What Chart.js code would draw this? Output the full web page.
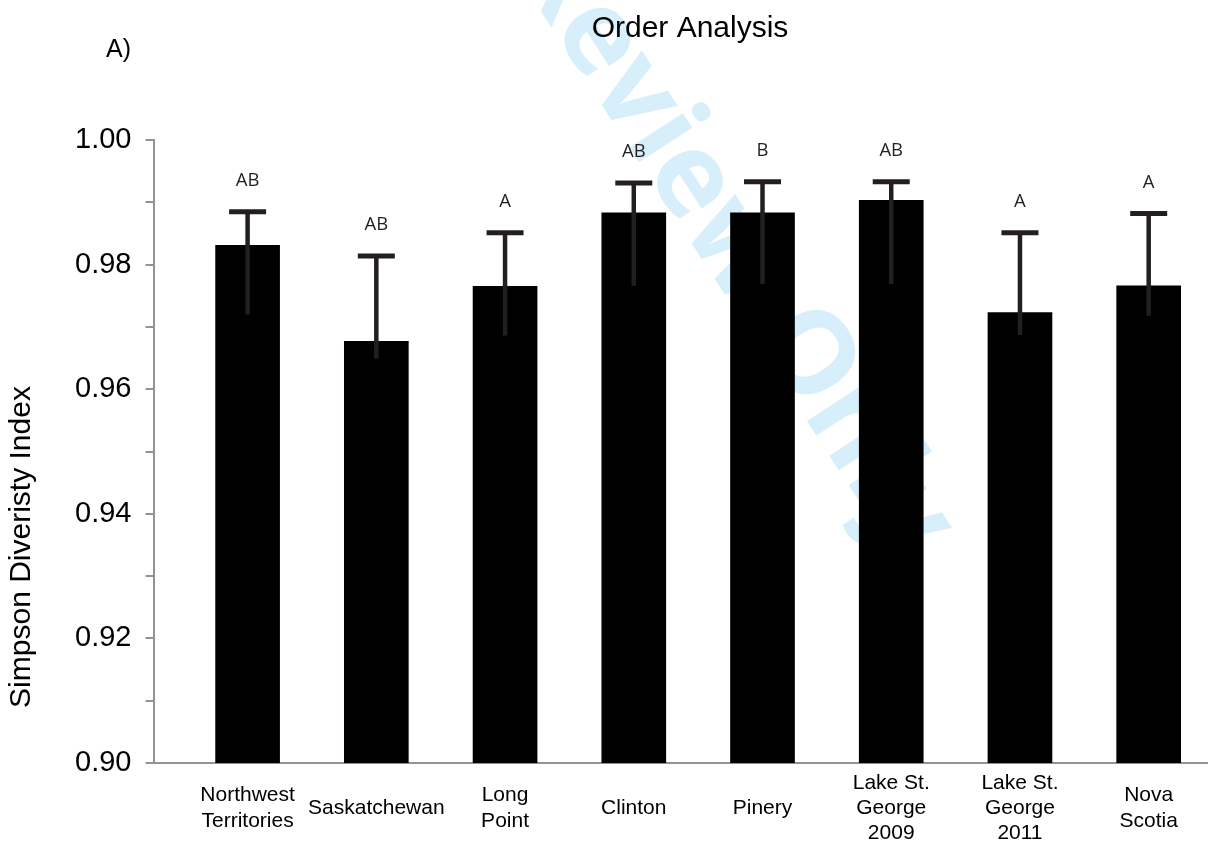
<!DOCTYPE html>
<html>
<head>
<meta charset="utf-8">
<title>Order Analysis</title>
<script src="https://cdn.jsdelivr.net/npm/chart.js@4.4.1/dist/chart.umd.min.js"></script>
<style>
  html, body { margin: 0; padding: 0; background: #ffffff; }
  canvas { display: block; }
</style>
</head>
<body>
<canvas id="chart" width="1209" height="850"></canvas>
<script>
// Sampling sites (one bar each)
const sites = [
  'Northwest Territories', 'Saskatchewan', 'Long Point', 'Clinton',
  'Pinery', 'Lake St. George 2009', 'Lake St. George 2011', 'Nova Scotia'
];
// Category tick labels, broken over lines
const siteLabels = [
  ['Northwest', 'Territories'], ['Saskatchewan'], ['Long', 'Point'], ['Clinton'],
  ['Pinery'], ['Lake St.', 'George', '2009'], ['Lake St.', 'George', '2011'], ['Nova', 'Scotia']
];
// Mean Simpson diversity index per site
const simpsonMean = [0.9831, 0.9677, 0.9765, 0.9883, 0.9883, 0.9903, 0.9723, 0.9766];
// Upper and lower ends of the error whiskers
const errorHigh = [0.9885, 0.9814, 0.9851, 0.9931, 0.9933, 0.9933, 0.9851, 0.9882];
const errorLow  = [0.9720, 0.9649, 0.9686, 0.9766, 0.9769, 0.9769, 0.9687, 0.9718];
// Significance groupings
const groupLetters = ['AB', 'AB', 'A', 'AB', 'B', 'AB', 'A', 'A'];

const AXIS_GREY = '#939393';
const INK = '#231f20';
const SANS = '"Liberation Sans", Arial, sans-serif';

// White page plus the pale diagonal stamp behind the plot
const backdrop = {
  id: 'backdrop',
  beforeDraw(chart) {
    const ctx = chart.ctx;
    ctx.save();
    ctx.fillStyle = '#ffffff';
    ctx.fillRect(0, 0, chart.width, chart.height);
    const size = 116;
    ctx.font = 'bold ' + size + 'px "Open Sans"';
    ctx.fillStyle = '#d6effa';
    const text = 'For Review Only';
    const lead = ctx.measureText('For Review ').width + ctx.measureText('O').width / 2;
    ctx.translate(812, 352);
    ctx.rotate(57 * Math.PI / 180);
    ctx.textAlign = 'left';
    ctx.textBaseline = 'alphabetic';
    ctx.fillText(text, -lead, size * 0.36);
    ctx.restore();
  }
};

// Whiskers, caps and group letters above each bar
const errorBars = {
  id: 'errorBars',
  afterDatasetsDraw(chart) {
    const { ctx, scales: { x, y } } = chart;
    ctx.save();
    ctx.strokeStyle = INK;
    ctx.fillStyle = INK;
    ctx.lineCap = 'butt';
    sites.forEach((_, i) => {
      const px = x.getPixelForValue(i);
      const top = y.getPixelForValue(errorHigh[i]);
      const bottom = y.getPixelForValue(errorLow[i]);
      ctx.lineWidth = 4.5;
      ctx.beginPath();
      ctx.moveTo(px, top);
      ctx.lineTo(px, bottom);
      ctx.stroke();
      ctx.lineWidth = 5;
      ctx.beginPath();
      ctx.moveTo(px - 18.5, top);
      ctx.lineTo(px + 18.5, top);
      ctx.stroke();
      ctx.font = '18.5px "Open Sans"';
      ctx.textAlign = 'center';
      ctx.textBaseline = 'middle';
      ctx.fillText(groupLetters[i], px, top - 31);
    });
    ctx.restore();
  }
};

// Heading, panel tag and vertical axis title
const headings = {
  id: 'headings',
  afterDraw(chart) {
    const ctx = chart.ctx;
    ctx.save();
    ctx.fillStyle = '#000000';
    ctx.textBaseline = 'middle';
    ctx.font = '30px ' + SANS;
    ctx.textAlign = 'center';
    ctx.fillText('Order Analysis', 690, 29);
    ctx.textAlign = 'left';
    ctx.font = '25px ' + SANS;
    ctx.fillText('A)', 106, 50);
    ctx.translate(22, 547);
    ctx.rotate(-Math.PI / 2);
    ctx.textAlign = 'center';
    ctx.font = '30px ' + SANS;
    ctx.fillText('Simpson Diveristy Index', 0, 0);
    ctx.restore();
  }
};

function build() {
  Chart.defaults.font.family = SANS;
  new Chart(document.getElementById('chart'), {
    type: 'bar',
    data: {
      datasets: [{
        data: simpsonMean.map((v, i) => ({ x: i, y: v })),
        backgroundColor: '#000000',
        borderWidth: 0,
        barThickness: 64
      }]
    },
    options: {
      responsive: false,
      devicePixelRatio: 1,
      animation: false,
      events: [],
      layout: { padding: { top: 140, right: 2, left: 0, bottom: 0 } },
      plugins: {
        legend: { display: false },
        title: { display: false },
        tooltip: { enabled: false }
      },
      scales: {
        x: {
          type: 'linear',
          offset: false,
          bounds: 'data',
          min: -0.731,
          max: 7.453,
          afterBuildTicks: (scale) => { scale.ticks = sites.map((_, i) => ({ value: i })); },
          afterFit: (scale) => { scale.height = 87; },
          grid: { display: true, drawOnChartArea: false, drawTicks: false },
          border: { display: true, color: AXIS_GREY, width: 2 },
          ticks: {
            autoSkip: false,
            maxRotation: 0,
            crossAlign: 'center',
            padding: 20,
            color: '#000000',
            font: { family: SANS, size: 21, lineHeight: 1.2 },
            callback: (v) => siteLabels[v]
          }
        },
        y: {
          min: 0.9,
          max: 1.0,
          afterFit: (scale) => { scale.width = 153.5; },
          grid: { drawOnChartArea: false, drawTicks: true, tickLength: 8, color: AXIS_GREY, lineWidth: 2 },
          border: { display: true, color: AXIS_GREY, width: 2 },
          ticks: {
            stepSize: 0.01,
            padding: 14,
            color: '#000000',
            font: { family: SANS, size: 29 },
            callback: (v) => (Math.round(v * 100) % 2 === 0 ? v.toFixed(2) : '')
          }
        }
      }
    },
    plugins: [backdrop, errorBars, headings]
  });
}

Promise.all([
  document.fonts.load('30px "Liberation Sans"'),
  document.fonts.load('18px "Open Sans"'),
  document.fonts.load('bold 116px "Open Sans"')
]).then(build, build);
</script>
</body>
</html>
